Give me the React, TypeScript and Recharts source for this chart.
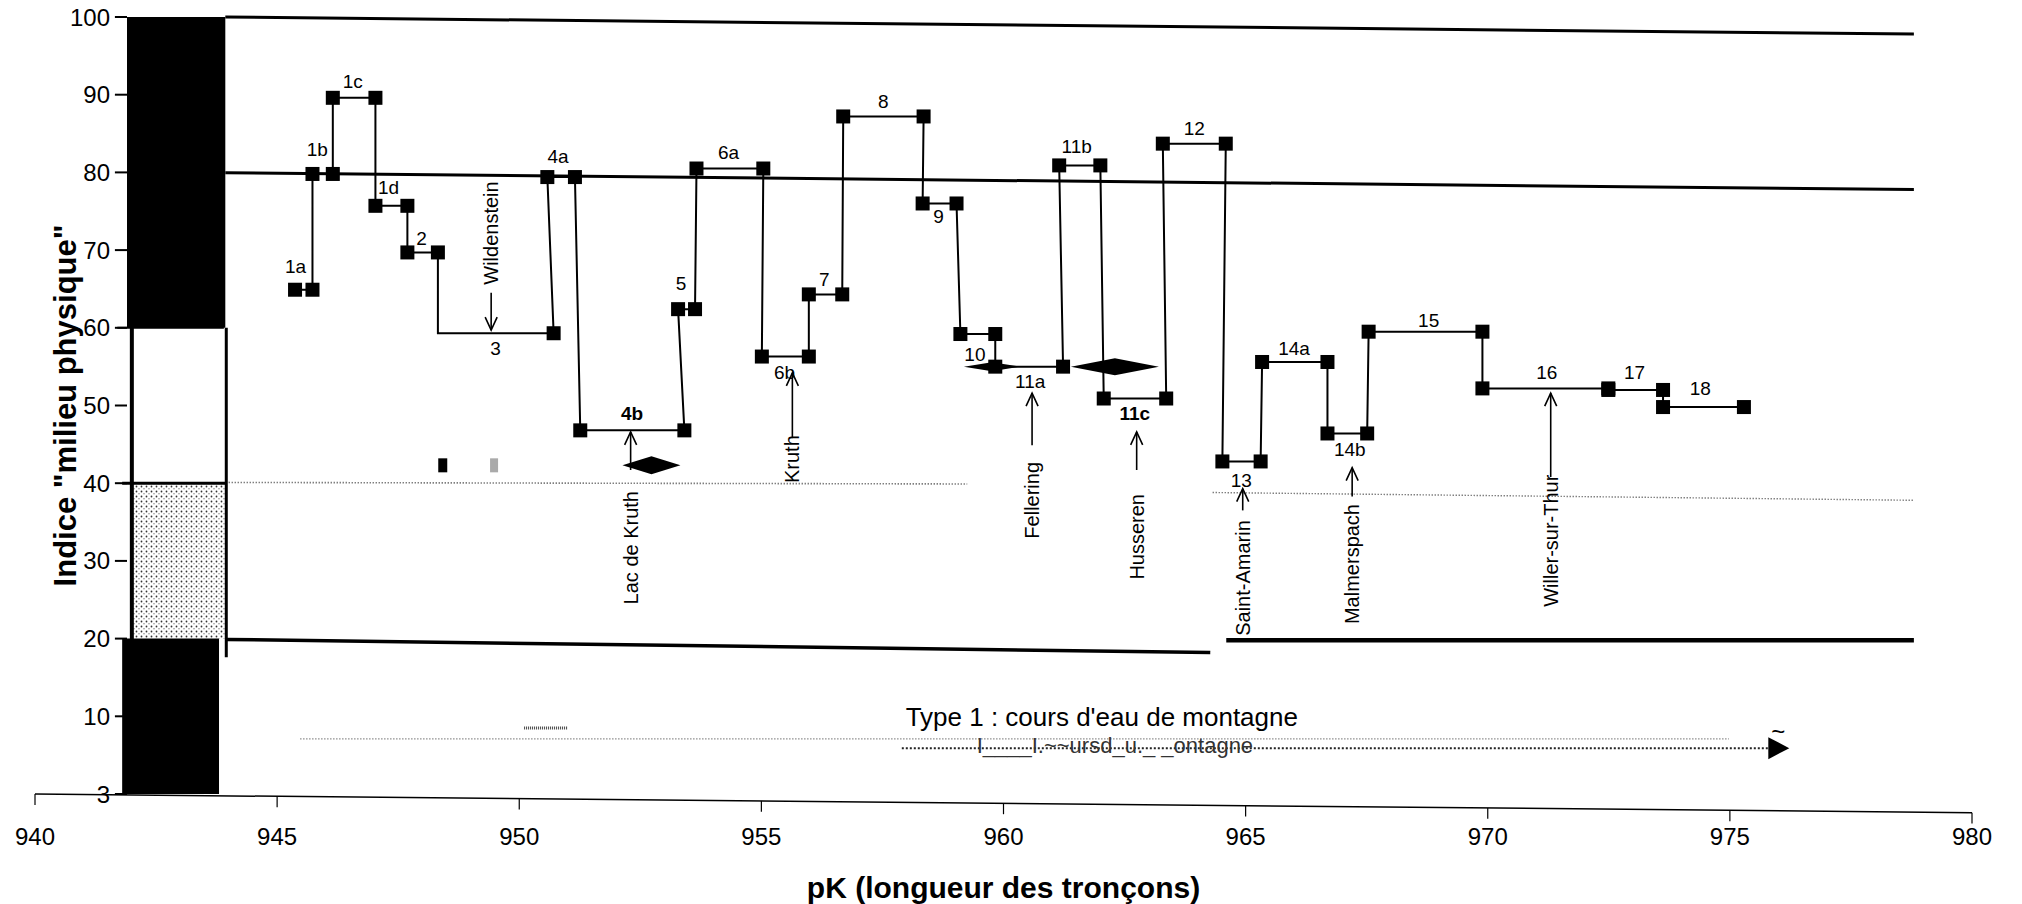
import { ComposedChart, Line, XAxis, YAxis, ReferenceLine, ReferenceArea, ReferenceDot } from 'recharts';

const FONT = '"Liberation Sans", Arial, sans-serif';

// tronçons : nom, pK de début, pK de fin, indice "milieu physique"
const segLabels = ['1a', '1b', '1c', '1d', '2', '3', '4a', '4b', '5', '6a', '6b', '7', '8', '9', '10', '11a', '11b', '11c', '12', '13', '14a', '14b', '15', '16', '17', '18'];
const segStart = [945.37, 945.73, 946.15, 947.03, 947.69, 948.32, 950.58, 951.26, 953.28, 953.66, 955.01, 955.98, 956.69, 958.33, 959.11, 959.83, 961.15, 962.07, 963.29, 964.52, 965.34, 966.69, 967.54, 969.89, 972.49, 973.62];
const segEnd = [945.73, 946.15, 947.03, 947.69, 948.32, 950.71, 951.15, 953.41, 953.63, 955.04, 955.98, 956.67, 958.35, 959.03, 959.83, 961.23, 962.0, 963.36, 964.59, 965.31, 966.69, 967.51, 969.89, 972.49, 973.62, 975.29];
const segValue = [64.9, 79.8, 89.6, 75.7, 69.7, 59.3, 79.4, 46.8, 62.4, 80.5, 56.3, 64.3, 87.2, 76.0, 59.2, 55.0, 80.9, 50.9, 83.7, 42.8, 55.6, 46.4, 59.5, 52.2, 52.0, 49.8];
const openStart = ['3'];

// étiquettes des tronçons
const labelX = [945.38, 945.83, 946.56, 947.3, 947.98, 949.51, 950.8, 952.33, 953.34, 954.32, 955.48, 956.3, 957.52, 958.66, 959.41, 960.55, 961.51, 962.71, 963.94, 964.91, 966.0, 967.15, 968.78, 971.22, 973.03, 974.39];
const labelY = [67.9, 82.9, 91.7, 78.0, 71.5, 57.4, 82.0, 49.0, 65.7, 82.5, 54.3, 66.2, 89.1, 74.3, 56.5, 53.1, 83.3, 49.0, 85.7, 40.3, 57.4, 44.4, 61.0, 54.2, 54.3, 52.2];
const boldLabels = ['4b', '11c'];

// localités
const towns = ['Wildenstein', 'Lac de Kruth', 'Kruth', 'Fellering', 'Husseren', 'Saint-Amarin', 'Malmerspach', 'Willer-sur-Thur'];
const townX = [949.42, 952.3, 955.64, 960.59, 962.75, 964.94, 967.2, 971.3];
const townY = [72.2, 31.7, 43.1, 37.8, 33.1, 27.8, 29.6, 32.6];
const arrowFrom = [64.5, 41.7, 45.8, 44.9, 41.7, 36.5, 38.3, 40.8];
const arrowTo = [59.7, 46.6, 54.2, 51.6, 46.6, 39.3, 42.0, 51.6];

// losanges
const diamondX = [952.73, 962.3, 959.76];
const diamondY = [42.3, 55, 55];
const diamondSize = [[58, 18], [88, 17], [56, 9]];

const xTicks = [940, 945, 950, 955, 960, 965, 970, 975, 980];
const yTicks = [0, 10, 20, 30, 40, 50, 60, 70, 80, 90, 100];
const yTickLabels = ['3', '10', '20', '30', '40', '50', '60', '70', '80', '90', '100'];

const axisTilt = 2.4;

const points = segLabels.flatMap((name, i) => [
  { x: segStart[i], y: segValue[i], mark: !openStart.includes(name) },
  { x: segEnd[i], y: segValue[i], mark: true },
]);

const Square = (props: any) => {
  const { cx, cy, payload, index } = props;
  if (!payload.mark) return <g key={index} />;
  return <rect key={index} x={cx - 7} y={cy - 7} width={14} height={14} fill="#000" />;
};

const textShape = (value: string, opts: any = {}) => (p: any) => (
  <text
    x={p.cx}
    y={p.cy}
    textAnchor={opts.anchor || 'middle'}
    dominantBaseline="central"
    fontFamily={FONT}
    fontSize={opts.size || 19}
    fontWeight={opts.bold ? 'bold' : 'normal'}
    fill={opts.fill || '#000'}
    transform={opts.angle ? `rotate(${opts.angle} ${p.cx} ${p.cy})` : undefined}
  >
    {value}
  </text>
);

const Arrow = (props: any) => {
  const { x1, y1, y2, dir } = props;
  const top = Math.min(y1, y2);
  const bottom = Math.max(y1, y2);
  const tip = dir === 'up' ? top : bottom;
  const s = dir === 'up' ? 1 : -1;
  return (
    <g>
      <line x1={x1} y1={top} x2={x1} y2={bottom} stroke="#000" strokeWidth={1.6} />
      <polyline points={`${x1 - 6},${tip + s * 13} ${x1},${tip} ${x1 + 6},${tip + s * 13}`} fill="none" stroke="#000" strokeWidth={1.6} />
    </g>
  );
};

const Grain = (p: any) => (
  <g>
    <defs>
      <pattern id="grain" width="5" height="5" patternUnits="userSpaceOnUse">
        <circle cx="1.5" cy="1.5" r="0.9" fill="#333" />
        <circle cx="4" cy="3.8" r="0.7" fill="#777" />
      </pattern>
    </defs>
    <rect x={p.x} y={p.y} width={p.width} height={p.height} fill="url(#grain)" />
  </g>
);

export default function App() {
  return (
    <div style={{ position: 'absolute', left: 0, top: 0, width: 2022, height: 904, background: '#fff' }}>
      <ComposedChart width={2022} height={904} margin={{ top: 17, right: 50, left: 35, bottom: 0 }}>
        <XAxis
          type="number"
          dataKey="x"
          domain={[940, 980]}
          ticks={xTicks}
          allowDataOverflow
          axisLine={false}
          tickLine={false}
          tickSize={6}
          tickMargin={28}
          height={110}
          tick={{ fontSize: 24, fill: '#000', fontFamily: FONT }}
          label={{ value: 'pK (longueur des tronçons)', position: 'insideBottom', offset: 6, fontSize: 30, fontWeight: 'bold', fill: '#000', fontFamily: FONT }}
        />
        <YAxis type="number" domain={[0, 100]} ticks={yTicks} allowDataOverflow hide />

        {/* bandes noires et zone grisée du scan */}
        <ReferenceArea x1={941.9} x2={943.93} y1={60} y2={100} fill="#000" fillOpacity={1} stroke="none" />
        <ReferenceArea x1={941.8} x2={943.8} y1={0} y2={20} fill="#000" fillOpacity={1} stroke="none" />
        <ReferenceArea x1={942.0} x2={943.95} y1={20} y2={40} shape={Grain} />
        <ReferenceLine segment={[{ x: 942.0, y: 60 }, { x: 942.0, y: 19.8 }]} stroke="#000" strokeWidth={4} />
        <ReferenceLine segment={[{ x: 943.95, y: 60 }, { x: 943.95, y: 17.6 }]} stroke="#000" strokeWidth={3} />
        <ReferenceLine segment={[{ x: 941.7, y: 60 }, { x: 943.9, y: 60 }]} stroke="#000" strokeWidth={2} />
        <ReferenceLine segment={[{ x: 941.8, y: 40 }, { x: 943.95, y: 40 }]} stroke="#000" strokeWidth={3} />

        {/* limites de classes */}
        <ReferenceLine segment={[{ x: 943.93, y: 100 }, { x: 978.8, y: 97.8 }]} stroke="#000" strokeWidth={3} ifOverflow="visible" />
        <ReferenceLine segment={[{ x: 943.93, y: 79.95 }, { x: 978.8, y: 77.8 }]} stroke="#000" strokeWidth={3} />
        <ReferenceLine segment={[{ x: 943.95, y: 19.9 }, { x: 964.27, y: 18.2 }]} stroke="#000" strokeWidth={3.5} />
        <ReferenceLine segment={[{ x: 964.6, y: 19.8 }, { x: 978.8, y: 19.8 }]} stroke="#000" strokeWidth={4.5} />
        <ReferenceLine segment={[{ x: 944, y: 40.1 }, { x: 959.25, y: 39.9 }]} stroke="#444" strokeWidth={1.6} strokeDasharray="1 2" />
        <ReferenceLine segment={[{ x: 964.32, y: 38.8 }, { x: 978.81, y: 37.8 }]} stroke="#444" strokeWidth={1.4} strokeDasharray="1 2" />

        {/* type de cours d'eau */}
        <ReferenceLine segment={[{ x: 945.48, y: 7.1 }, { x: 974.98, y: 7.1 }]} stroke="#555" strokeWidth={1.3} strokeDasharray="1 2" />
        <ReferenceLine segment={[{ x: 957.9, y: 5.9 }, { x: 975.8, y: 5.9 }]} stroke="#222" strokeWidth={2} strokeDasharray="2 2" />
        <ReferenceLine segment={[{ x: 950.1, y: 8.5 }, { x: 951.0, y: 8.5 }]} stroke="#444" strokeWidth={3} strokeDasharray="1 1" />
        <ReferenceDot x={976.0} y={5.9} r={0} shape={(p: any) => <polygon points={`${p.cx - 10},${p.cy - 11} ${p.cx + 11},${p.cy} ${p.cx - 10},${p.cy + 11}`} fill="#000" />} />
        <ReferenceDot x={976.0} y={8.1} r={0} shape={textShape('~', { size: 24 })} />
        <ReferenceDot x={962.03} y={9.9} r={0} shape={textShape("Type 1 : cours d'eau de montagne", { size: 26 })} />
        <ReferenceDot x={962.3} y={6.3} r={0} shape={textShape('I____I.~~ursd_u._ _ontagne', { size: 22, fill: '#333' })} />

        {/* marques parasites */}
        <ReferenceDot x={948.41} y={42.3} r={0} shape={(p: any) => <rect x={p.cx - 4} y={p.cy - 7} width={9} height={14} fill="#000" />} />
        <ReferenceDot x={949.48} y={42.3} r={0} shape={(p: any) => <rect x={p.cx - 4} y={p.cy - 7} width={8} height={14} fill="#aaa" />} />

        {/* axe des x incliné */}
        <ReferenceLine segment={[{ x: 940, y: 0 }, { x: 980, y: -axisTilt }]} stroke="#000" strokeWidth={1.5} ifOverflow="visible" />
        {xTicks.map((t) => {
          const y0 = (-axisTilt * (t - 940)) / 40;
          return <ReferenceLine key={`xt${t}`} segment={[{ x: t, y: y0 }, { x: t, y: y0 - 1.4 }]} stroke="#000" strokeWidth={1.2} ifOverflow="visible" />;
        })}

        {/* axe des y */}
        {yTicks.map((v) => (
          <ReferenceLine key={`yt${v}`} segment={[{ x: 941.65, y: v }, { x: 941.9, y: v }]} stroke="#000" strokeWidth={2} />
        ))}
        {yTicks.map((v, i) => (
          <ReferenceDot key={`yl${v}`} x={941.55} y={v} r={0} shape={textShape(yTickLabels[i], { size: 24, anchor: 'end' })} />
        ))}
        <ReferenceDot x={940.62} y={50} r={0} shape={textShape('Indice "milieu physique"', { size: 31, bold: true, angle: -90 })} />

        {/* losanges */}
        {diamondX.map((x, i) => (
          <ReferenceDot
            key={`d${i}`}
            x={x}
            y={diamondY[i]}
            r={0}
            shape={(p: any) => {
              const [w, h] = diamondSize[i];
              return <polygon points={`${p.cx - w / 2},${p.cy} ${p.cx},${p.cy - h / 2} ${p.cx + w / 2},${p.cy} ${p.cx},${p.cy + h / 2}`} fill="#000" />;
            }}
          />
        ))}

        {/* localités */}
        {towns.map((name, i) => (
          <ReferenceLine
            key={`a${i}`}
            segment={[{ x: townX[i], y: arrowFrom[i] }, { x: townX[i], y: arrowTo[i] }]}
            shape={(p: any) => <Arrow {...p} dir={arrowTo[i] > arrowFrom[i] ? 'up' : 'down'} />}
          />
        ))}
        {towns.map((name, i) => (
          <ReferenceDot key={`t${i}`} x={townX[i]} y={townY[i]} r={0} shape={textShape(name, { size: 20, angle: -90 })} />
        ))}

        <Line
          data={points}
          dataKey="y"
          type="linear"
          stroke="#000"
          strokeWidth={2}
          dot={Square}
          activeDot={false}
          isAnimationActive={false}
        />

        {segLabels.map((name, i) => (
          <ReferenceDot key={`l${name}`} x={labelX[i]} y={labelY[i]} r={0} shape={textShape(name, { bold: boldLabels.includes(name) })} />
        ))}
      </ComposedChart>
    </div>
  );
}
